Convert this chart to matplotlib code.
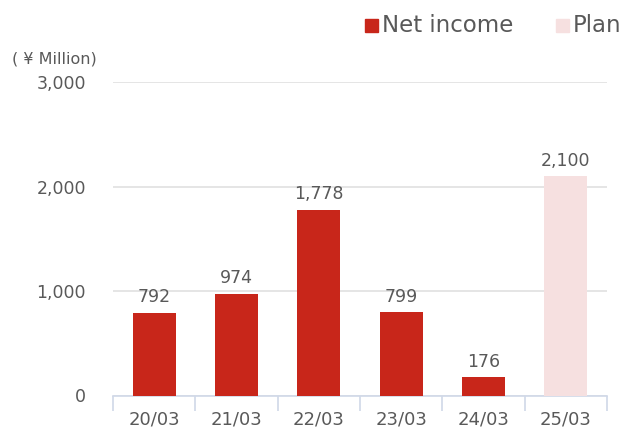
import numpy as np
import matplotlib.pyplot as plt
from matplotlib.patches import Rectangle

categories = ['20/03', '21/03', '22/03', '23/03', '24/03', '25/03']
net_income = [792, 974, 1778, 799, 176]
plan = [2100]
y_ticks = [0, 1000, 2000, 3000]

RED = '#C8261A'
PINK = '#F6E0E0'
GREY = '#595959'
AXIS = '#D0D8E8'


def main():
    fig = plt.figure(figsize=(6.23, 4.29), dpi=100)
    ax = fig.add_axes([113 / 623, 1 - 395.5 / 429, 494 / 623, 313.5 / 429])

    x = np.arange(len(categories))
    n = len(net_income)
    ax.bar(x[:n], net_income, width=0.52, color=RED, zorder=3)
    ax.bar(x[n:], plan, width=0.52, color=PINK, zorder=3)

    # value labels above bars
    for xi, v in zip(x, net_income + plan):
        ax.annotate(f'{v:,}', (xi, v), xytext=(0, 4.5), textcoords='offset points',
                    ha='center', va='bottom', fontsize=12.5, color=GREY)

    ax.set_xlim(-0.5, len(categories) - 0.5)
    ax.set_ylim(0, 3000)
    ax.set_yticks(y_ticks)
    ax.set_yticklabels([f'{t:,}' for t in y_ticks])
    ax.yaxis.grid(True, color='#E0E0E0', linewidth=1.2, zorder=0)
    ax.tick_params(axis='y', length=0, pad=19.5, labelsize=12.5, labelcolor=GREY)

    ax.set_xticks(x)
    ax.set_xticklabels(categories)
    ax.set_xticks(np.arange(-0.5, len(categories)), minor=True)
    ax.tick_params(axis='x', which='major', length=0, pad=10.5, labelsize=13, labelcolor=GREY)
    ax.tick_params(axis='x', which='minor', length=11, width=1.2, color=AXIS, direction='out')

    for s in ['top', 'right', 'left']:
        ax.spines[s].set_visible(False)
    ax.spines['bottom'].set_color(AXIS)
    ax.spines['bottom'].set_linewidth(1.2)

    fig.text(12 / 623, 1 - 59 / 429, '( \u00a5 Million)', fontsize=11.5, color=GREY, va='center')

    # legend
    fig.patches.append(Rectangle((365 / 623, 1 - 32 / 429), 13 / 623, 13 / 429,
                                 transform=fig.transFigure, color=RED, figure=fig))
    fig.text(382 / 623, 1 - 25 / 429, 'Net income', fontsize=16.5, color=GREY, va='center')
    fig.patches.append(Rectangle((556 / 623, 1 - 32 / 429), 13 / 623, 13 / 429,
                                 transform=fig.transFigure, color=PINK, figure=fig))
    fig.text(573 / 623, 1 - 25 / 429, 'Plan', fontsize=16.5, color=GREY, va='center')

    fig.savefig('out.png', dpi=100)
    plt.close(fig)


if __name__ == '__main__':
    main()
